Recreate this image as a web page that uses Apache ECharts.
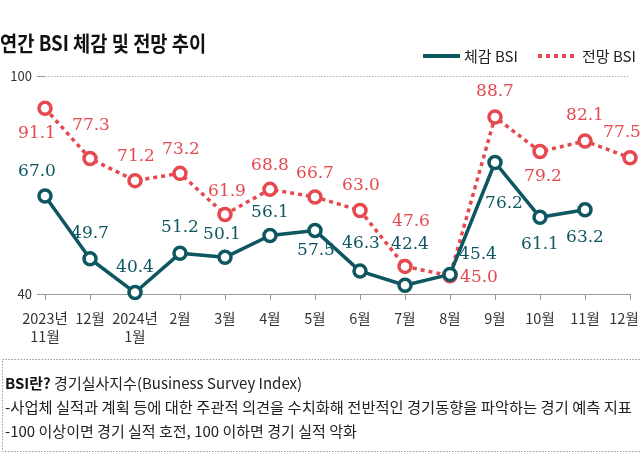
<!DOCTYPE html>
<html><head><meta charset="utf-8">
<script src="https://cdn.jsdelivr.net/npm/echarts@6/dist/echarts.min.js"></script>
<style>html,body{margin:0;padding:0;background:#fff}#c{width:640px;height:456px}</style>
</head><body><div id="c"></div>
<script>
// ---- data ----
const categories = ['2023년\n11월','12월','2024년\n1월','2월','3월','4월','5월','6월','7월','8월','9월','10월','11월','12월'];
const actualBSI = [67.0, 49.7, 40.4, 51.2, 50.1, 56.1, 57.5, 46.3, 42.4, 45.4, 76.2, 61.1, 63.2, null];
const forecastBSI = [91.1, 77.3, 71.2, 73.2, 61.9, 68.8, 66.7, 63.0, 47.6, 45.0, 88.7, 79.2, 82.1, 77.5];
const yAxisMin = 40, yAxisMax = 100, yAxisStep = 60;
const seriesNames = ['체감 BSI', '전망 BSI'];

// ---- label placement (dx, dy from point centre) ----
const actualLabelOffsets = [[-8,-24],[0,-25],[0,-25],[0,-26],[-3,-23],[0,-23],[1,20],[1,-28],[5,-41],[28,-20],[9,41],[0,27],[0,28],null];
const forecastLabelOffsets = [[-8,25],[1,-33],[1,-24],[1,-24],[2,-23],[0,-24],[0,-23],[1,-25],[6,-45],[29,2],[0,-25],[3,25],[0,-25],[-8,-25]];

const TEAL = '#0e5660';
const RED = '#e5484f';
const FONT = "'Noto Sans CJK KR', 'Noto Sans', sans-serif";
const NUMFONT = "'DejaVu Serif', serif";

function build(values, offsets) {
  return values.map((v, i) => v == null ? null : {
    value: v,
    label: { offset: offsets[i] }
  });
}

function series(name, values, offsets, color, dashed, z) {
  return {
    name, type: 'line', z,
    data: build(values, offsets),
    symbol: 'circle', symbolSize: 12,
    itemStyle: { color: '#fff', borderColor: color, borderWidth: 3.5 },
    lineStyle: { color, width: 3.5, type: dashed ? [4, 4] : 'solid', cap: 'butt' },
    emphasis: { disabled: true },
    label: {
      show: true, position: 'inside', align: 'center', verticalAlign: 'middle',
      color, fontFamily: NUMFONT, fontSize: 17,
      formatter: p => Number(p.value).toFixed(1)
    },
    animation: false
  };
}

const chart = echarts.init(document.getElementById('c'), null, { renderer: 'canvas' });
chart.setOption({
  animation: false,
  grid: { left: 45, right: 10, top: 76, bottom: 162, outerBoundsMode: 'none', containLabel: false },
  xAxis: {
    type: 'category', data: categories, boundaryGap: false,
    axisLine: { lineStyle: { color: '#9a9a9a', width: 1 } },
    axisTick: { show: true, length: 6, lineStyle: { color: '#9a9a9a' } },
    axisLabel: {
      color: '#333', fontFamily: FONT, fontSize: 14.5, lineHeight: 18, margin: 15, interval: 0,
      formatter: (v, i) => i === categories.length - 1 ? '{last|' + v + '}' : v,
      rich: { last: { color: '#333', fontFamily: FONT, fontSize: 14.5, lineHeight: 18, padding: [0, 12, 0, 0] } }
    }
  },
  yAxis: {
    type: 'value', min: yAxisMin, max: yAxisMax, interval: yAxisStep,
    axisLine: { show: false },
    axisTick: { show: true, length: 8, lineStyle: { color: '#9a9a9a' } },
    axisLabel: { color: '#333', fontFamily: FONT, fontSize: 13, margin: 13 },
    splitLine: { show: true, lineStyle: { color: '#b5b5b5', type: [1.5, 1.5], width: 1 } }
  },
  series: [
    series(seriesNames[1], forecastBSI, forecastLabelOffsets, RED, true, 2),
    series(seriesNames[0], actualBSI, actualLabelOffsets, TEAL, false, 3)
  ],
  graphic: [
    { type: 'text', x: 0, y: 43, scaleX: 0.89,
      style: { text: '연간 BSI 체감 및 전망 추이', fontFamily: FONT, fontSize: 21, fontWeight: 'bold', fill: '#111', verticalAlign: 'middle' } },
    { type: 'line', shape: { x1: 423, y1: 56, x2: 460, y2: 56 }, style: { stroke: TEAL, lineWidth: 4 } },
    { type: 'text', x: 464, y: 56, style: { text: seriesNames[0], fontFamily: FONT, fontSize: 15, fill: '#222', verticalAlign: 'middle' } },
    { type: 'line', shape: { x1: 538, y1: 56, x2: 577, y2: 56 }, style: { stroke: RED, lineWidth: 4, lineDash: [4, 4] } },
    { type: 'text', x: 582, y: 56, style: { text: seriesNames[1], fontFamily: FONT, fontSize: 15, fill: '#222', verticalAlign: 'middle' } },
    { type: 'rect', shape: { x: 2.5, y: 359.5, width: 640, height: 92 },
      style: { fill: 'none', stroke: '#9a9a9a', lineWidth: 1, lineDash: [1.5, 1.5] } },
    { type: 'text', x: 5, y: 383,
      style: { text: '{b|BSI란?} 경기실사지수(Business Survey Index)', fontFamily: FONT, fontSize: 15, fill: '#222', verticalAlign: 'middle',
        rich: { b: { fontFamily: FONT, fontSize: 15, fontWeight: 'bold', fill: '#111' } } } },
    { type: 'text', x: 5, y: 407,
      style: { text: '-사업체 실적과 계획 등에 대한 주관적 의견을 수치화해 전반적인 경기동향을 파악하는 경기 예측 지표', fontFamily: FONT, fontSize: 15.3, fill: '#222', verticalAlign: 'middle' } },
    { type: 'text', x: 5, y: 431,
      style: { text: '-100 이상이면 경기 실적 호전, 100 이하면 경기 실적 악화', fontFamily: FONT, fontSize: 15, fill: '#222', verticalAlign: 'middle' } }
  ]
});
</script>
</body></html>
